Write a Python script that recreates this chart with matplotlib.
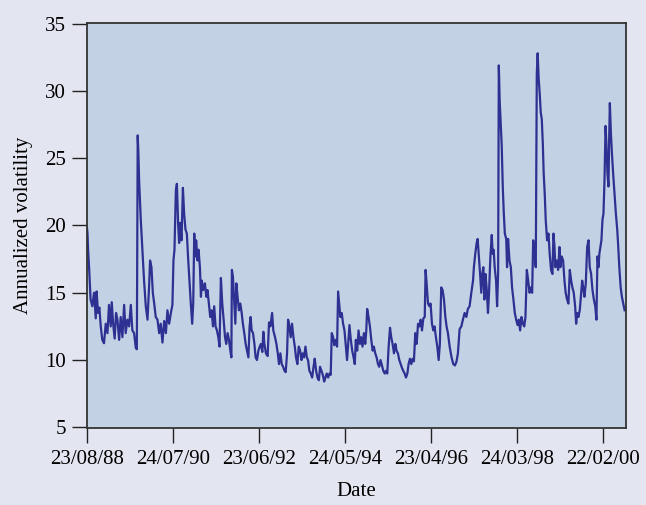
import numpy as np
import matplotlib
matplotlib.use('Agg')
import matplotlib.pyplot as plt

# observation number (trading days since 23/08/88) and annualized volatility
obs = [0, 3, 6, 12, 21, 31, 41, 51, 56, 64, 72, 80, 89, 99, 109, 119, 128, 138, 144, 152,
       161, 169, 177, 187, 196, 206, 216, 225, 235, 245, 255, 264, 274, 284, 290, 295, 299, 303, 313, 323,
       332, 342, 352, 361, 367, 375, 383, 391, 400, 410, 420, 429, 439, 449, 459, 468, 478, 488, 497, 503,
       509, 517, 523, 530, 536, 542, 550, 558, 565, 573, 581, 589, 597, 604, 612, 618, 624, 630, 635, 643,
       649, 657, 663, 668, 676, 686, 694, 701, 709, 717, 725, 733, 740, 748, 756, 764, 771, 779, 787, 795,
       803, 810, 818, 826, 834, 840, 843, 849, 857, 863, 869, 876, 884, 892, 900, 907, 915, 923, 931, 939,
       946, 952, 958, 966, 974, 981, 989, 997, 1005, 1012, 1020, 1026, 1032, 1041, 1051, 1059, 1067, 1077, 1084, 1094,
       1102, 1110, 1117, 1125, 1133, 1141, 1149, 1156, 1164, 1170, 1178, 1185, 1193, 1201, 1209, 1216, 1224, 1232, 1240, 1248,
       1255, 1263, 1271, 1279, 1286, 1294, 1302, 1310, 1318, 1325, 1333, 1341, 1349, 1356, 1364, 1372, 1380, 1387, 1395, 1403,
       1411, 1418, 1424, 1432, 1439, 1447, 1455, 1461, 1467, 1474, 1482, 1490, 1498, 1506, 1513, 1521, 1527, 1535, 1543, 1551,
       1558, 1564, 1572, 1580, 1588, 1595, 1603, 1611, 1619, 1625, 1630, 1638, 1646, 1654, 1662, 1669, 1677, 1685, 1693, 1700,
       1708, 1716, 1724, 1732, 1739, 1747, 1755, 1763, 1770, 1778, 1786, 1794, 1801, 1809, 1817, 1825, 1833, 1840, 1848, 1856,
       1864, 1871, 1879, 1887, 1895, 1902, 1910, 1918, 1926, 1934, 1941, 1949, 1957, 1965, 1970, 1976, 1984, 1992, 1999, 2007,
       2015, 2022, 2030, 2038, 2046, 2053, 2061, 2069, 2077, 2085, 2092, 2100, 2110, 2121, 2131, 2141, 2150, 2158, 2168, 2178,
       2187, 2197, 2207, 2216, 2226, 2236, 2246, 2251, 2259, 2267, 2273, 2279, 2287, 2294, 2300, 2306, 2312, 2318, 2325, 2333,
       2339, 2347, 2355, 2360, 2366, 2372, 2380, 2386, 2392, 2396, 2401, 2407, 2413, 2419, 2425, 2431, 2439, 2444, 2450, 2458,
       2466, 2473, 2481, 2489, 2497, 2505, 2512, 2520, 2528, 2536, 2544, 2551, 2559, 2567, 2575, 2583, 2590, 2596, 2603, 2611,
       2617, 2622, 2628, 2634, 2640, 2646, 2652, 2657, 2663, 2669, 2677, 2685, 2692, 2700, 2708, 2714, 2720, 2725, 2733, 2741,
       2749, 2754, 2762, 2770, 2778, 2785, 2793, 2801, 2809, 2817, 2824, 2832, 2840, 2846, 2852, 2859, 2867, 2875, 2881, 2887,
       2894, 2902, 2910, 2918, 2925, 2933, 2941, 2949, 2957, 2964, 2970, 2976, 2981, 2987, 2993, 2999, 3005, 3011, 3017, 3022,
       3028, 3034, 3038, 3042, 3048, 3054, 3061, 3069, 3077, 3085, 3091, 3097, 3105, 3112, 3120, 3128]

vol = [19.8, 19.4, 18.3, 16.9, 14.5, 14.0, 15.0, 13.1, 15.1, 13.5, 13.9, 12.5, 11.5, 11.25, 12.7, 12.0, 14.1, 12.5, 14.3, 12.7,
       11.6, 13.5, 13.0, 11.5, 13.2, 11.7, 14.1, 12.0, 13.0, 12.5, 14.1, 12.2, 12.0, 10.9, 10.8, 26.7, 25.4, 23.4, 20.4, 18.0,
       15.9, 14.0, 13.0, 15.4, 17.4, 16.9, 15.0, 14.2, 13.2, 13.0, 12.0, 12.7, 11.3, 12.9, 12.0, 13.7, 12.7, 13.5, 14.1, 17.4,
       18.2, 22.6, 23.1, 20.2, 18.7, 20.2, 18.9, 22.8, 20.9, 19.7, 19.4, 17.4, 15.7, 14.2, 12.7, 14.2, 19.4, 17.7, 18.9, 17.4,
       18.2, 16.9, 14.7, 15.9, 15.2, 15.7, 14.7, 15.2, 14.2, 13.2, 13.7, 12.5, 14.0, 12.5, 12.2, 11.7, 11.0, 16.1, 14.2, 13.0,
       11.7, 11.2, 12.0, 11.5, 10.7, 10.2, 16.7, 16.2, 14.2, 12.7, 15.7, 14.7, 13.7, 14.2, 13.5, 12.7, 12.0, 11.2, 10.7, 10.2,
       12.5, 13.2, 12.2, 12.0, 11.2, 10.2, 10.0, 10.7, 11.0, 11.2, 10.6, 12.1, 11.2, 10.5, 10.3, 12.8, 12.5, 13.5, 12.2, 11.7,
       11.2, 10.5, 9.7, 10.5, 9.7, 9.5, 9.2, 9.1, 10.5, 13.0, 12.5, 11.7, 12.7, 11.7, 11.0, 10.2, 9.7, 11.0, 10.7, 10.0,
       10.5, 10.2, 11.0, 10.2, 10.0, 9.2, 9.0, 8.7, 9.5, 10.1, 9.2, 8.7, 8.5, 9.5, 9.2, 8.9, 8.4, 8.7, 9.0, 8.7,
       9.0, 8.9, 12.0, 11.7, 11.1, 11.5, 11.0, 15.1, 14.2, 13.2, 13.5, 12.7, 12.2, 11.0, 10.0, 11.5, 12.6, 11.5, 10.7, 10.2,
       9.7, 11.5, 10.7, 12.2, 11.2, 11.7, 11.0, 12.0, 11.2, 12.2, 13.8, 13.2, 12.5, 11.5, 10.7, 11.0, 10.5, 10.2, 9.7, 9.5,
       10.0, 9.6, 9.2, 9.0, 9.2, 9.0, 11.0, 12.4, 11.7, 11.2, 10.5, 11.2, 10.7, 10.5, 10.0, 9.7, 9.4, 9.2, 9.0, 8.7,
       9.0, 9.7, 10.1, 9.7, 10.1, 9.9, 12.0, 11.2, 12.7, 12.5, 13.0, 12.2, 13.1, 13.2, 16.7, 15.7, 14.2, 14.0, 14.2, 12.7,
       12.2, 12.5, 11.7, 11.0, 10.0, 11.2, 15.4, 15.2, 14.5, 13.2, 12.5, 12.0, 11.0, 10.2, 9.7, 9.6, 9.9, 10.5, 12.3, 12.5,
       13.0, 13.5, 13.2, 13.8, 14.0, 15.0, 15.9, 16.9, 17.9, 18.7, 19.0, 17.9, 16.4, 15.0, 16.4, 16.9, 14.5, 16.4, 15.4, 13.5,
       15.0, 17.7, 19.3, 17.9, 18.2, 16.9, 15.9, 14.0, 16.4, 31.9, 29.3, 27.6, 25.9, 22.9, 20.9, 19.4, 19.0, 16.9, 19.0, 17.4,
       16.9, 15.4, 14.5, 13.5, 13.0, 12.6, 13.0, 12.2, 13.2, 12.7, 12.5, 13.2, 16.7, 15.9, 15.0, 15.4, 15.0, 18.9, 17.9, 16.9,
       31.3, 32.8, 30.9, 29.8, 28.4, 27.9, 26.1, 23.9, 22.4, 20.4, 18.9, 19.4, 17.9, 16.7, 16.4, 19.4, 18.4, 16.9, 17.4, 16.7,
       18.4, 16.9, 17.7, 17.4, 15.9, 15.0, 14.5, 14.2, 16.7, 15.9, 15.4, 15.0, 14.0, 12.7, 13.5, 13.2, 13.7, 15.0, 15.9, 15.4,
       14.7, 15.7, 18.4, 18.9, 16.9, 16.4, 15.2, 14.5, 14.0, 13.0, 17.7, 16.9, 17.9, 18.4, 18.9, 20.4, 20.9, 23.4, 27.4, 26.1,
       23.9, 22.9, 26.4, 29.1, 26.9, 25.4, 23.9, 22.4, 20.9, 19.7, 18.4, 16.9, 15.4, 14.7, 14.2, 13.7]

tick_pos = [0, 500, 1000, 1500, 2000, 2500, 3000]
tick_labels = ['23/08/88', '24/07/90', '23/06/92', '24/05/94', '23/04/96', '24/03/98', '22/02/00']
y_ticks = [5, 10, 15, 20, 25, 30, 35]

plt.rcParams.update({
    'font.family': ['Liberation Serif', 'DejaVu Serif'],
    'font.size': 15,
})

fig = plt.figure(figsize=(6.46, 5.05), dpi=100, facecolor='#e3e5f0')
ax = fig.add_axes([87 / 646, 1 - 428 / 505, (626 - 87) / 646, (428 - 23) / 505])
ax.set_facecolor('#c2d1e4')

ax.plot(obs, vol, color='#2e3192', linewidth=1.6)

ax.set_xlim(0, 3136)
ax.set_ylim(4.95, 35.05)
ax.set_xticks(tick_pos)
ax.set_xticklabels(tick_labels)
ax.set_yticks(y_ticks)
ax.tick_params(direction='out', length=11, width=1.0, color='#222222', pad=4, labelsize=15)
ax.tick_params(axis='x', pad=5)

for s in ax.spines.values():
    s.set_linewidth(1.3)
    s.set_color('#333333')

ax.set_xlabel('Date', fontsize=15, labelpad=9)
ax.set_ylabel('Annualized volatility', fontsize=15, labelpad=9)

fig.savefig('out.png', dpi=100, facecolor=fig.get_facecolor())
